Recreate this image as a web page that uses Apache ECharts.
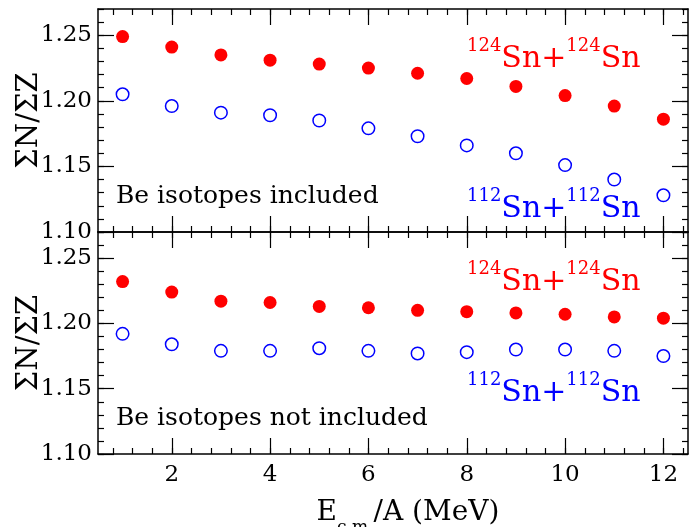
<!DOCTYPE html>
<html>
<head>
<meta charset="utf-8">
<script src="https://cdn.jsdelivr.net/npm/echarts@6/dist/echarts.min.js"></script>
<style>
  html, body { margin: 0; padding: 0; background: #fff; }
  #chart { width: 699px; height: 527px; }
</style>
</head>
<body>
<div id="chart"></div>
<script>
// ---- data ----
const energies = [1, 2, 3, 4, 5, 6, 7, 8, 9, 10, 11, 12];
const topSn124 = [1.249, 1.241, 1.235, 1.231, 1.228, 1.225, 1.221, 1.217, 1.211, 1.204, 1.196, 1.186];
const topSn112 = [1.205, 1.196, 1.191, 1.189, 1.185, 1.179, 1.173, 1.166, 1.160, 1.151, 1.140, 1.128];
const botSn124 = [1.232, 1.224, 1.217, 1.216, 1.213, 1.212, 1.210, 1.209, 1.208, 1.207, 1.205, 1.204];
const botSn112 = [1.192, 1.184, 1.179, 1.179, 1.181, 1.179, 1.177, 1.178, 1.180, 1.180, 1.179, 1.175];
const xMajorTicks = [2, 4, 6, 8, 10, 12];
const yMajorTicks = [1.10, 1.15, 1.20, 1.25];
const xMinorStep = 0.4;
const yMinorStep = 0.01;
const xRange = [0.5, 12.5];
const yRange = [1.10, 1.27];
const panelNotes = ['Be isotopes included', 'Be isotopes not included'];

// minor tick positions
const xMinorTicks = [];
for (let k = Math.ceil(xRange[0] / xMinorStep); k * xMinorStep <= xRange[1]; k++) {
  xMinorTicks.push(Math.round(k * xMinorStep * 100) / 100);
}
const yMinorTicks = [];
for (let k = Math.round(yRange[0] / yMinorStep); k * yMinorStep <= yRange[1] + 1e-9; k++) {
  yMinorTicks.push(Math.round(k * yMinorStep * 100) / 100);
}

const FONT = 'DejaVu Serif';
const BLACK = '#000';

function xAxis(g, pos, major, withLabel) {
  return {
    type: 'value', gridIndex: g, position: pos, min: xRange[0], max: xRange[1],
    axisLine: { show: major, onZero: false, lineStyle: { color: BLACK, width: 1.5 } },
    axisTick: { show: true, inside: true, length: major ? 16 : 6,
      customValues: major ? xMajorTicks : xMinorTicks,
      lineStyle: { color: BLACK, width: 1.2 } },
    axisLabel: { show: withLabel, customValues: xMajorTicks, color: BLACK,
      fontFamily: FONT, fontSize: 23, margin: 10 },
    splitLine: { show: false },
    name: withLabel ? '{m|E}{s|c.m.}{m|/A (MeV)}' : '',
    nameLocation: 'middle', nameGap: 45, nameMoveOverlap: false,
    nameTextStyle: withLabel ? {
      padding: [0, 0, 0, 30],
      rich: {
        m: { fontFamily: FONT, fontSize: 28, color: BLACK, verticalAlign: 'bottom', padding: [0, 0, 9, 0] },
        s: { fontFamily: FONT, fontSize: 17, color: BLACK, verticalAlign: 'bottom' }
      }
    } : {}
  };
}
function yAxis(g, pos, major, withLabel) {
  return {
    type: 'value', gridIndex: g, position: pos, min: yRange[0], max: yRange[1],
    axisLine: { show: major, onZero: false, lineStyle: { color: BLACK, width: 1.5 } },
    axisTick: { show: true, inside: true, length: major ? 16 : 6,
      customValues: major ? yMajorTicks : yMinorTicks,
      lineStyle: { color: BLACK, width: 1.2 } },
    axisLabel: { show: withLabel, customValues: yMajorTicks, color: BLACK,
      fontFamily: FONT, fontSize: 23, margin: 6,
      formatter: v => Number(v).toFixed(2) },
    splitLine: { show: false },
    name: withLabel ? 'ΣN/ΣZ' : '',
    nameLocation: 'middle', nameGap: 54, nameMoveOverlap: false,
    nameTextStyle: { fontFamily: FONT, fontSize: 29, color: BLACK }
  };
}

const xAxes = [], yAxes = [];
[0, 1].forEach(g => {
  xAxes.push(xAxis(g, 'bottom', true, g === 1));
  xAxes.push(xAxis(g, 'bottom', false, false));
  xAxes.push(xAxis(g, 'top', true, false));
  xAxes.push(xAxis(g, 'top', false, false));
  yAxes.push(yAxis(g, 'left', true, true));
  yAxes.push(yAxis(g, 'left', false, false));
  yAxes.push(yAxis(g, 'right', true, false));
  yAxes.push(yAxis(g, 'right', false, false));
});

function pairs(ys) { return energies.map((e, i) => [e, ys[i]]); }
function redSeries(g, ys) {
  return { type: 'scatter', xAxisIndex: g * 4, yAxisIndex: g * 4, data: pairs(ys),
    symbol: 'circle', symbolSize: 13, itemStyle: { color: '#ff0000', opacity: 1 }, z: 5 };
}
function blueSeries(g, ys) {
  return { type: 'scatter', xAxisIndex: g * 4, yAxisIndex: g * 4, data: pairs(ys),
    symbol: 'circle', symbolSize: 12.5, itemStyle: { color: '#ffffff', borderColor: '#0000ff', borderWidth: 1.5, opacity: 1 }, z: 5 };
}

function reactionText(x, y, mass, color) {
  const rich = {
    m: { fontFamily: FONT, fontSize: 30, verticalAlign: 'bottom', fill: color },
    u: { fontFamily: FONT, fontSize: 18, verticalAlign: 'bottom', padding: [0, 0, 19, 0], fill: color }
  };
  return { type: 'text', x: x, y: y, z: 10,
    style: { text: '{u|' + mass + '}{m|Sn+}{u|' + mass + '}{m|Sn}', rich: rich,
      fill: color, font: '30px ' + FONT, verticalAlign: 'bottom' } };
}
function noteText(x, y, txt) {
  return { type: 'text', x: x, y: y, z: 10,
    style: { text: txt, fill: BLACK, font: '25px "DejaVu Serif"', verticalAlign: 'bottom' } };
}

const option = {
  animation: false,
  backgroundColor: '#ffffff',
  grid: [
    { left: 98, right: 11, top: 9, height: 223, outerBoundsMode: 'none' },
    { left: 98, right: 11, top: 232, height: 222, outerBoundsMode: 'none' }
  ],
  xAxis: xAxes,
  yAxis: yAxes,
  series: [
    redSeries(0, topSn124), blueSeries(0, topSn112),
    redSeries(1, botSn124), blueSeries(1, botSn112)
  ],
  graphic: [
    reactionText(467, 74, 124, '#ff0000'),
    reactionText(467, 224, 112, '#0000ff'),
    reactionText(467, 297, 124, '#ff0000'),
    reactionText(467, 408, 112, '#0000ff'),
    noteText(116, 209, panelNotes[0]),
    noteText(116, 431, panelNotes[1])
  ]
};

const chart = echarts.init(document.getElementById('chart'));
chart.setOption(option);
</script>
</body>
</html>
